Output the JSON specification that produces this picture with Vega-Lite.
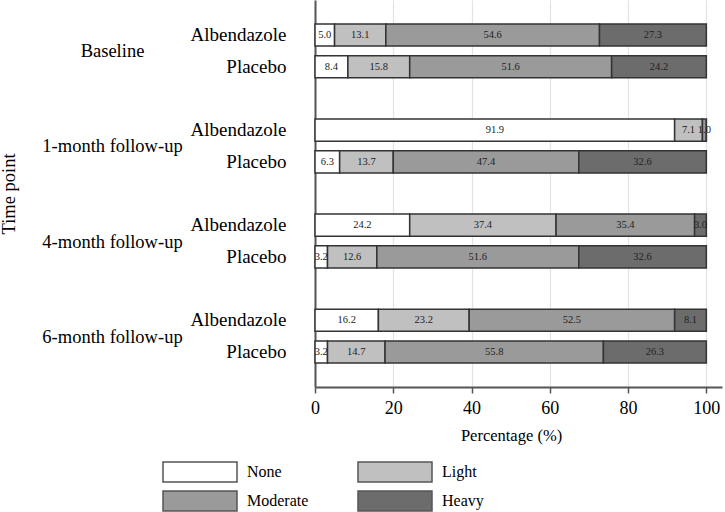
{
  "$schema": "https://vega.github.io/schema/vega-lite/v6.json",
  "width": 407,
  "height": 387,
  "autosize": {"type": "none"},
  "padding": {"left": 315, "top": 0, "right": 3, "bottom": 125},
  "config": {
    "font": "Liberation Serif",
    "view": {"stroke": null},
    "axis": {
      "labelFont": "Liberation Serif",
      "titleFont": "Liberation Serif",
      "labelColor": "#000",
      "titleColor": "#000",
      "titleFontWeight": "normal",
      "domainColor": "#555",
      "domainWidth": 2,
      "tickColor": "#555",
      "tickWidth": 1.5
    },
    "legend": {"labelFont": "Liberation Serif"}
  },
  "data": {
    "values": [
      {"t": "Baseline", "r": "Baseline|Albendazole", "level": "None", "o": 1, "value": 5.0},
      {"t": "Baseline", "r": "Baseline|Albendazole", "level": "Light", "o": 2, "value": 13.1},
      {"t": "Baseline", "r": "Baseline|Albendazole", "level": "Moderate", "o": 3, "value": 54.6},
      {"t": "Baseline", "r": "Baseline|Albendazole", "level": "Heavy", "o": 4, "value": 27.3},
      {"t": "Baseline", "r": "Baseline|Placebo", "level": "None", "o": 1, "value": 8.4},
      {"t": "Baseline", "r": "Baseline|Placebo", "level": "Light", "o": 2, "value": 15.8},
      {"t": "Baseline", "r": "Baseline|Placebo", "level": "Moderate", "o": 3, "value": 51.6},
      {"t": "Baseline", "r": "Baseline|Placebo", "level": "Heavy", "o": 4, "value": 24.2},
      {"t": "1-month follow-up", "r": "1m|Albendazole", "level": "None", "o": 1, "value": 91.9},
      {"t": "1-month follow-up", "r": "1m|Albendazole", "level": "Light", "o": 2, "value": 7.1},
      {"t": "1-month follow-up", "r": "1m|Albendazole", "level": "Moderate", "o": 3, "value": 1.0},
      {"t": "1-month follow-up", "r": "1m|Albendazole", "level": "Heavy", "o": 4, "value": 0.0},
      {"t": "1-month follow-up", "r": "1m|Placebo", "level": "None", "o": 1, "value": 6.3},
      {"t": "1-month follow-up", "r": "1m|Placebo", "level": "Light", "o": 2, "value": 13.7},
      {"t": "1-month follow-up", "r": "1m|Placebo", "level": "Moderate", "o": 3, "value": 47.4},
      {"t": "1-month follow-up", "r": "1m|Placebo", "level": "Heavy", "o": 4, "value": 32.6},
      {"t": "4-month follow-up", "r": "4m|Albendazole", "level": "None", "o": 1, "value": 24.2},
      {"t": "4-month follow-up", "r": "4m|Albendazole", "level": "Light", "o": 2, "value": 37.4},
      {"t": "4-month follow-up", "r": "4m|Albendazole", "level": "Moderate", "o": 3, "value": 35.4},
      {"t": "4-month follow-up", "r": "4m|Albendazole", "level": "Heavy", "o": 4, "value": 3.0},
      {"t": "4-month follow-up", "r": "4m|Placebo", "level": "None", "o": 1, "value": 3.2},
      {"t": "4-month follow-up", "r": "4m|Placebo", "level": "Light", "o": 2, "value": 12.6},
      {"t": "4-month follow-up", "r": "4m|Placebo", "level": "Moderate", "o": 3, "value": 51.6},
      {"t": "4-month follow-up", "r": "4m|Placebo", "level": "Heavy", "o": 4, "value": 32.6},
      {"t": "6-month follow-up", "r": "6m|Albendazole", "level": "None", "o": 1, "value": 16.2},
      {"t": "6-month follow-up", "r": "6m|Albendazole", "level": "Light", "o": 2, "value": 23.2},
      {"t": "6-month follow-up", "r": "6m|Albendazole", "level": "Moderate", "o": 3, "value": 52.5},
      {"t": "6-month follow-up", "r": "6m|Albendazole", "level": "Heavy", "o": 4, "value": 8.1},
      {"t": "6-month follow-up", "r": "6m|Placebo", "level": "None", "o": 1, "value": 3.2},
      {"t": "6-month follow-up", "r": "6m|Placebo", "level": "Light", "o": 2, "value": 14.7},
      {"t": "6-month follow-up", "r": "6m|Placebo", "level": "Moderate", "o": 3, "value": 55.8},
      {"t": "6-month follow-up", "r": "6m|Placebo", "level": "Heavy", "o": 4, "value": 26.3}
    ]
  },
  "transform": [
    {"stack": "value", "groupby": ["r"], "sort": [{"field": "o", "order": "ascending"}], "as": ["v0", "v1"]},
    {"calculate": "(datum.v0 + datum.v1) / 2", "as": "mid"}
  ],
  "layer": [
    {
      "layer": [
        {
          "mark": {"type": "bar", "stroke": "#333", "strokeWidth": 1.5},
          "encoding": {
            "x": {
              "field": "v0", "type": "quantitative",
              "scale": {"domain": [0, 104], "nice": false, "zero": true},
              "axis": {
                "title": "Percentage (%)",
                "values": [0, 20, 40, 60, 80, 100],
                "grid": true,
                "gridColor": "#e3e3e3",
                "gridWidth": 1.2,
                "tickSize": 6,
                "labelFontSize": 18,
                "labelPadding": 6,
                "labelFlush": false,
                "titleFontSize": 16.5,
                "titlePadding": 10,
                "titleX": 196
              }
            },
            "x2": {"field": "v1"},
            "y": {
              "field": "r", "type": "nominal",
              "scale": {
                "domain": ["Baseline|Albendazole", "Baseline|Placebo", "g1", "1m|Albendazole", "1m|Placebo", "g2", "4m|Albendazole", "4m|Placebo", "g3", "6m|Albendazole", "6m|Placebo"],
                "paddingInner": 0.3,
                "paddingOuter": 0.755
              },
              "axis": {
                "title": null,
                "ticks": false,
                "grid": false,
                "labelFontSize": 19,
                "labelPadding": 29,
                "labelExpr": "indexof(datum.value, '|') >= 0 ? split(datum.value, '|')[1] : ''"
              }
            },
            "fill": {
              "field": "level", "type": "nominal",
              "scale": {"domain": ["None", "Light", "Moderate", "Heavy"], "range": ["#ffffff", "#c0c0c0", "#9a9a9a", "#6c6c6c"]},
              "legend": {
                "title": null,
                "orient": "none",
                "direction": "horizontal",
                "legendX": -126,
                "legendY": 461,
                "columns": 2,
                "symbolType": "M-3.7,-1H3.7V1H-3.7Z",
                "symbolSize": 400,
                "symbolStrokeColor": "#555",
                "symbolStrokeWidth": 1.5,
                "labelFontSize": 16,
                "labelColor": "#000",
                "labelOffset": 36,
                "rowPadding": 3,
                "columnPadding": 46
              }
            }
          }
        },
        {
          "transform": [{"filter": "datum.value > 0"}],
          "mark": {"type": "text", "fontSize": 10.5, "color": "#222", "baseline": "middle", "align": "center"},
          "encoding": {
            "x": {"field": "mid", "type": "quantitative"},
            "y": {"field": "r", "type": "nominal"},
            "text": {"field": "value", "type": "quantitative", "format": ".1f"}
          }
        }
      ]
    },
    {
      "mark": {"type": "point", "opacity": 0},
      "encoding": {
        "y": {
          "field": "t", "type": "nominal",
          "scale": {"type": "point", "padding": 0.535, "domain": ["Baseline", "1-month follow-up", "4-month follow-up", "6-month follow-up"]},
          "axis": {
            "orient": "left",
            "title": "Time point",
            "ticks": false,
            "domain": false,
            "grid": false,
            "labelAlign": "center",
            "labelPadding": 203,
            "labelFontSize": 18.5,
            "titleFontSize": 18.5,
            "titleX": -297,
            "titleY": 193.5
          }
        }
      }
    }
  ],
  "resolve": {"scale": {"y": "independent"}, "axis": {"y": "independent"}}
}
